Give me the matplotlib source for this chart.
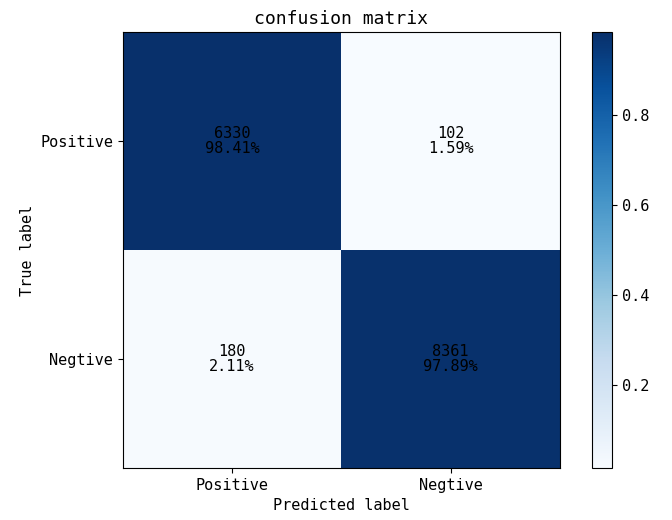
import numpy as np
import matplotlib
matplotlib.use('Agg')
import matplotlib.pyplot as plt

plt.rcParams['font.family'] = ['DejaVu Sans Mono']

classes = ['Positive', 'Negtive']
counts = np.array([[6330, 102],
                   [180, 8361]])

# row-normalised matrix
cm = counts / counts.sum(axis=1, keepdims=True)

fig = plt.figure(figsize=(6.72, 5.2), dpi=100)
ax = fig.add_axes([0.183, 0.1, 0.65, 0.838])
cax = fig.add_axes([0.881, 0.1, 0.03, 0.838])

im = ax.imshow(cm, interpolation='nearest', cmap=plt.cm.Blues, aspect='auto')
ax.set_title('confusion matrix', fontsize=13)
cb = fig.colorbar(im, cax=cax)
cb.ax.tick_params(labelsize=11)

ticks = np.arange(len(classes))
ax.set_xticks(ticks)
ax.set_xticklabels(classes, fontsize=11)
ax.set_yticks(ticks)
ax.set_yticklabels(classes, fontsize=11)

for i in range(cm.shape[0]):
    for j in range(cm.shape[1]):
        ax.text(j, i, '%d\n%.2f%%' % (counts[i, j], cm[i, j] * 100),
                ha='center', va='center', color='black', fontsize=11,
                linespacing=1.0)

ax.set_ylabel('True label', fontsize=11)
ax.set_xlabel('Predicted label', fontsize=11)

fig.savefig('out.png', dpi=100)
